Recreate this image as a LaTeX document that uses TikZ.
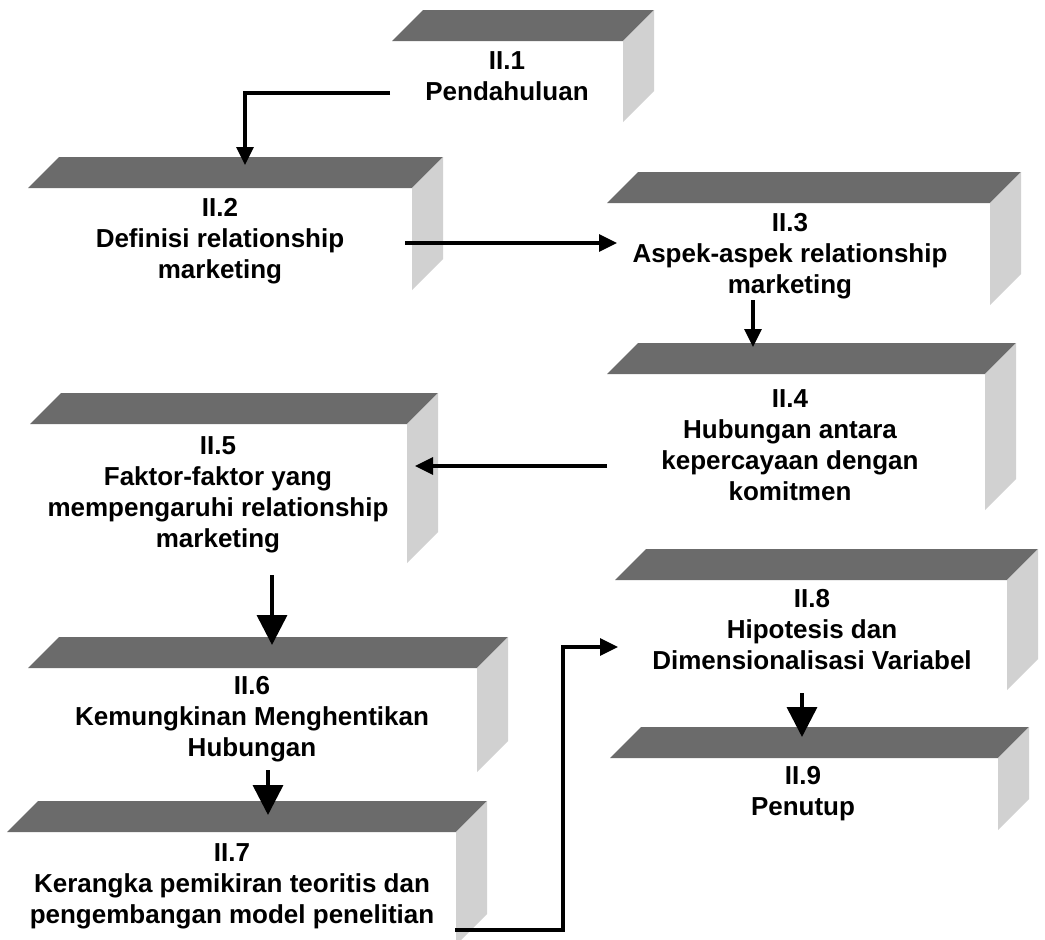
\documentclass[tikz,border=0pt]{standalone}
\usepackage{fontspec}
\setmainfont{Liberation Sans}
\usetikzlibrary{arrows.meta}

\tikzset{
  topface/.style={fill=black!58},
  sideface/.style={fill=black!18},
  front/.style={draw=none, inner sep=0pt, outer sep=0pt, rectangle},
  label/.style={inner sep=0pt, anchor=north, align=center,
    font=\bfseries\fontsize{26}{31}\selectfont},
  arrS/.style={line width=3.2pt, -{Triangle[length=18pt,width=17pt]}},
  arrB/.style={line width=3.6pt, -{Triangle[length=30pt,width=30pt]}},
}

% #1 name, #2 left x, #3 y of the band's lower edge, #4 x of the side face, #5 lower end of the side face
\newcommand{\bevelbox}[5]{%
  \fill[topface] (#2,#3) -- (#2+31,#3-31) -- (#4+31,#3-31) -- (#4,#3) -- cycle;
  \fill[sideface] (#4,#3) -- (#4+31,#3-31) -- (#4+31,#5-31) -- (#4,#5) -- cycle;
  \node[front, anchor=north west, minimum width={(#4-#2)*1pt},
        minimum height={(#5-#3)*1pt}] (#1) at (#2,#3) {};
}

\begin{document}
\begin{tikzpicture}[x=1pt, y=-1pt]
\useasboundingbox (0,0) rectangle (1045,940);

% frames
\bevelbox{f1}{392}{41}{623}{122}
\bevelbox{f2}{28}{188}{412}{290}
\bevelbox{f3}{607}{203}{990}{305}
\bevelbox{f4}{607}{374}{985}{510}
\bevelbox{f5}{30}{424}{407}{563}
\bevelbox{f6}{28}{668}{477}{772}
\bevelbox{f7}{7}{832}{456}{945}
\bevelbox{f8}{615}{580}{1007}{690}
\bevelbox{f9}{610}{758}{998}{830}

% titles
\node[label] (t1) at (507,51) {II.1\\Pendahuluan};
\node[label] (t2) at (220,198) {II.2\\Definisi relationship\\marketing};
\node[label] (t3) at (790,213) {II.3\\Aspek-aspek relationship\\marketing};
\node[label] (t4) at (790,389) {II.4\\Hubungan antara\\kepercayaan dengan\\komitmen};
\node[label] (t5) at (218,436) {II.5\\Faktor-faktor yang\\mempengaruhi relationship\\marketing};
\node[label] (t6) at (252,676) {II.6\\Kemungkinan Menghentikan\\Hubungan};
\node[label] (t7) at (232,843) {II.7\\Kerangka pemikiran teoritis dan\\pengembangan model penelitian};
\node[label] (t8) at (812,589) {II.8\\Hipotesis dan\\Dimensionalisasi Variabel};
\node[label] (t9) at (803,766) {II.9\\Penutup};

% flow
\draw[arrS] ([xshift=-2pt,yshift=-11.5pt]f1.west) -| ([xshift=25pt,yshift=23pt]f2.north);
\draw[arrS] ([xshift=-7pt,yshift=-4pt]f2.east) -- ([xshift=10pt,yshift=11pt]f3.west);
\draw[arrS] ([xshift=-45.5pt,yshift=5pt]f3.south) -- ([xshift=-43pt,yshift=27pt]f4.north);
\draw[arrS] ([yshift=-24pt]f4.west) -- ([xshift=8pt,yshift=27.5pt]f5.east);
\draw[arrB] ([xshift=53.5pt,yshift=-12pt]f5.south) -- ([xshift=19.5pt,yshift=23pt]f6.north);
\draw[arrB] ([xshift=15.5pt,yshift=2pt]f6.south) -- ([xshift=36.5pt,yshift=17pt]f7.north);
\draw[arrS] ([xshift=-1pt,yshift=-41.5pt]f7.east) -- ++(108,0) |- ([xshift=3pt,yshift=-12pt]f8.west);
\draw[arrB] ([xshift=-9pt,yshift=-3pt]f8.south) -- ([xshift=-2pt,yshift=21pt]f9.north);
\end{tikzpicture}
\end{document}
